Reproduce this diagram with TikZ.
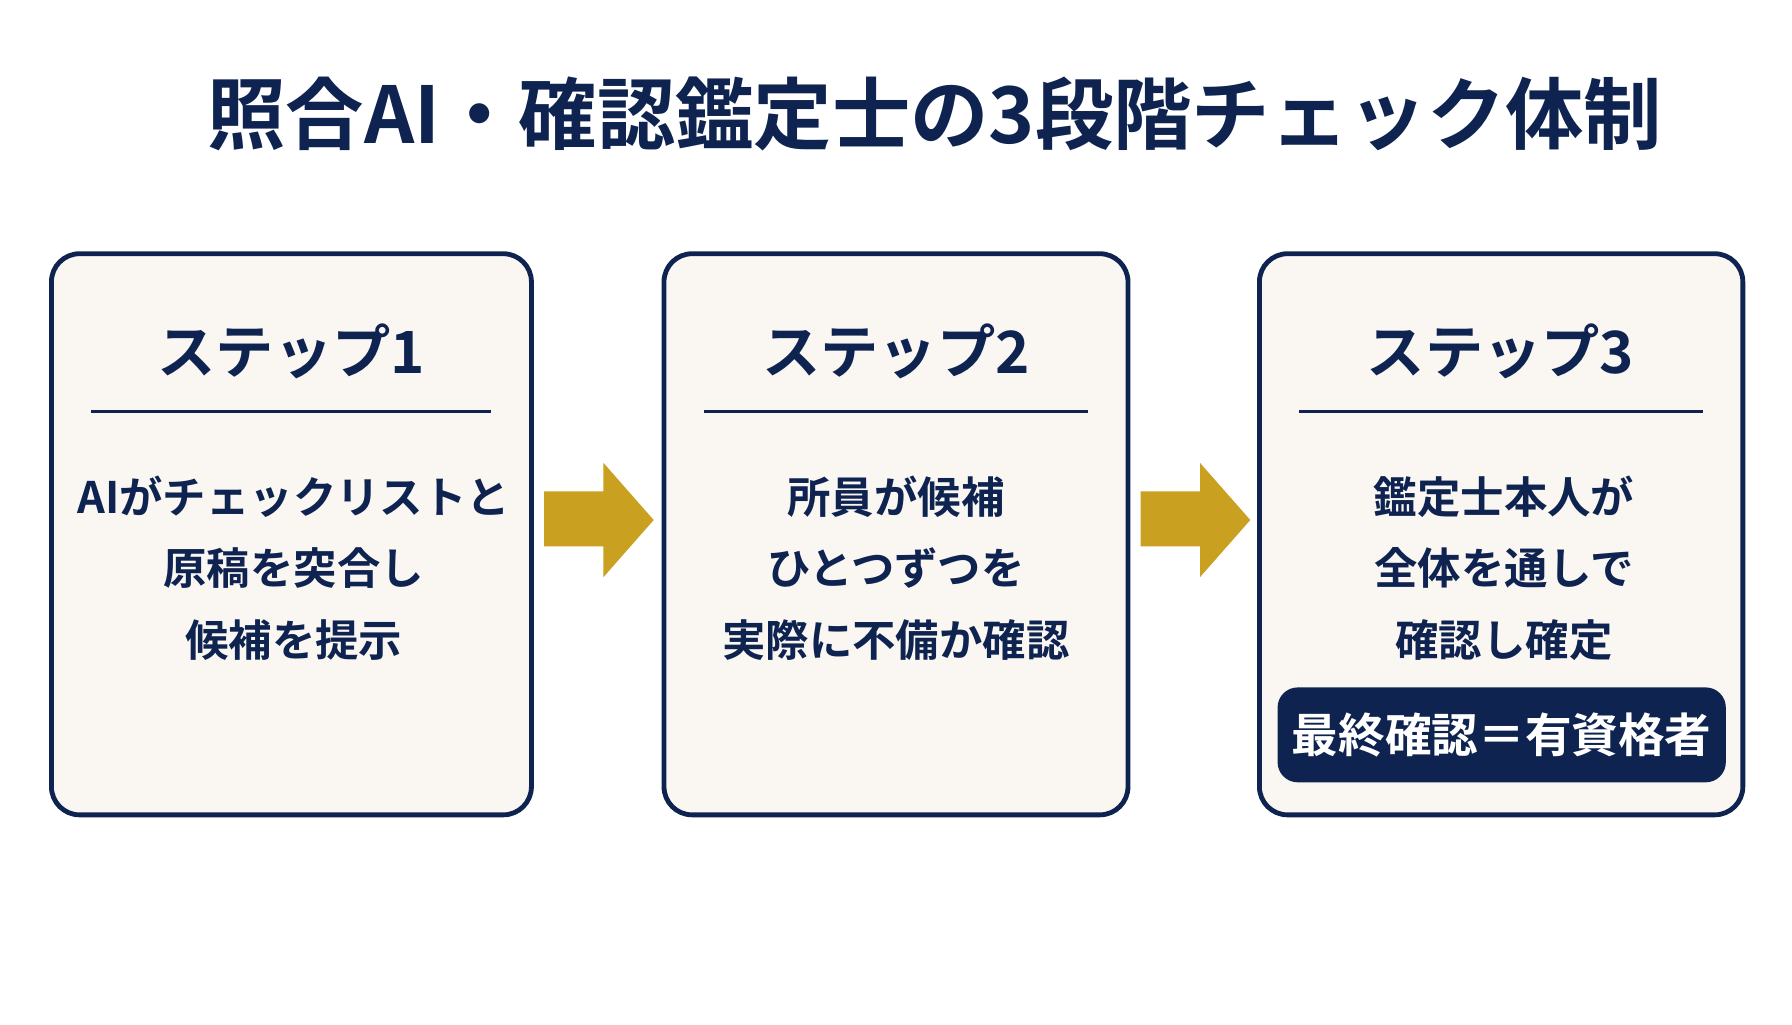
\documentclass[tikz,border=0pt]{standalone}
\usepackage{fontspec}
\setmainfont{Noto Sans CJK JP}[BoldFont={* Bold}]
\newfontfamily\jp{Noto Sans CJK JP Bold}
\definecolor{navy}{HTML}{0E2350}
\definecolor{cream}{HTML}{FAF7F2}
\definecolor{gold}{HTML}{C9A020}
\begin{document}
\begin{tikzpicture}[x=0.01cm,y=-0.01cm,
  box/.style={draw=navy,line width=1.2pt,fill=cream,rounded corners=7pt},
  head/.style={text=navy,font=\jp\fontsize{14.5}{16}\selectfont},
  body/.style={text=navy,font=\jp\fontsize{10.8}{17.8}\selectfont,align=center},
  rule/.style={draw=navy,line width=0.8pt},
  arr/.style={fill=gold,draw=none}]
\useasboundingbox[fill=white] (0,0) rectangle (1568,896);
\node[text=navy,font=\jp\fontsize{19.5}{22}\selectfont] (title) at (818,100) {照合AI・確認鑑定士の3段階チェック体制};
\draw[box] (45,222) rectangle (465,713);
\draw[box] (581,222) rectangle (987,713);
\draw[box] (1102,222) rectangle (1525,713);
\node[head] (h1) at (255,307) {ステップ1};
\node[head] (h2) at (784,307) {ステップ2};
\node[head] (h3) at (1313,307) {ステップ3};
\draw[rule] (80,360) -- (430,360);
\draw[rule] (616,360) -- (952,360);
\draw[rule] (1137,360) -- (1490,360);
\node[body] (b1) at (257,497) {AIがチェックリストと\\原稿を突合し\\候補を提示};
\node[body] (b2) at (784,497) {所員が候補\\ひとつずつを\\実際に不備か確認};
\node[body] (b3) at (1316,497) {鑑定士本人が\\全体を通しで\\確認し確定};
\node[fill=navy,rounded corners=5pt,text=white,inner sep=0pt,font=\jp\fontsize{11.6}{14}\selectfont,minimum width=3.92cm,minimum height=0.83cm] (badge) at (1314,643) {最終確認＝有資格者};
\fill[arr] (476,430) -- (528,430) -- (528,405) -- (572,455) -- (528,505) -- (528,478) -- (476,478) -- cycle;
\fill[arr] (998,430) -- (1050,430) -- (1050,405) -- (1094,455) -- (1050,505) -- (1050,478) -- (998,478) -- cycle;
\end{tikzpicture}
\end{document}
